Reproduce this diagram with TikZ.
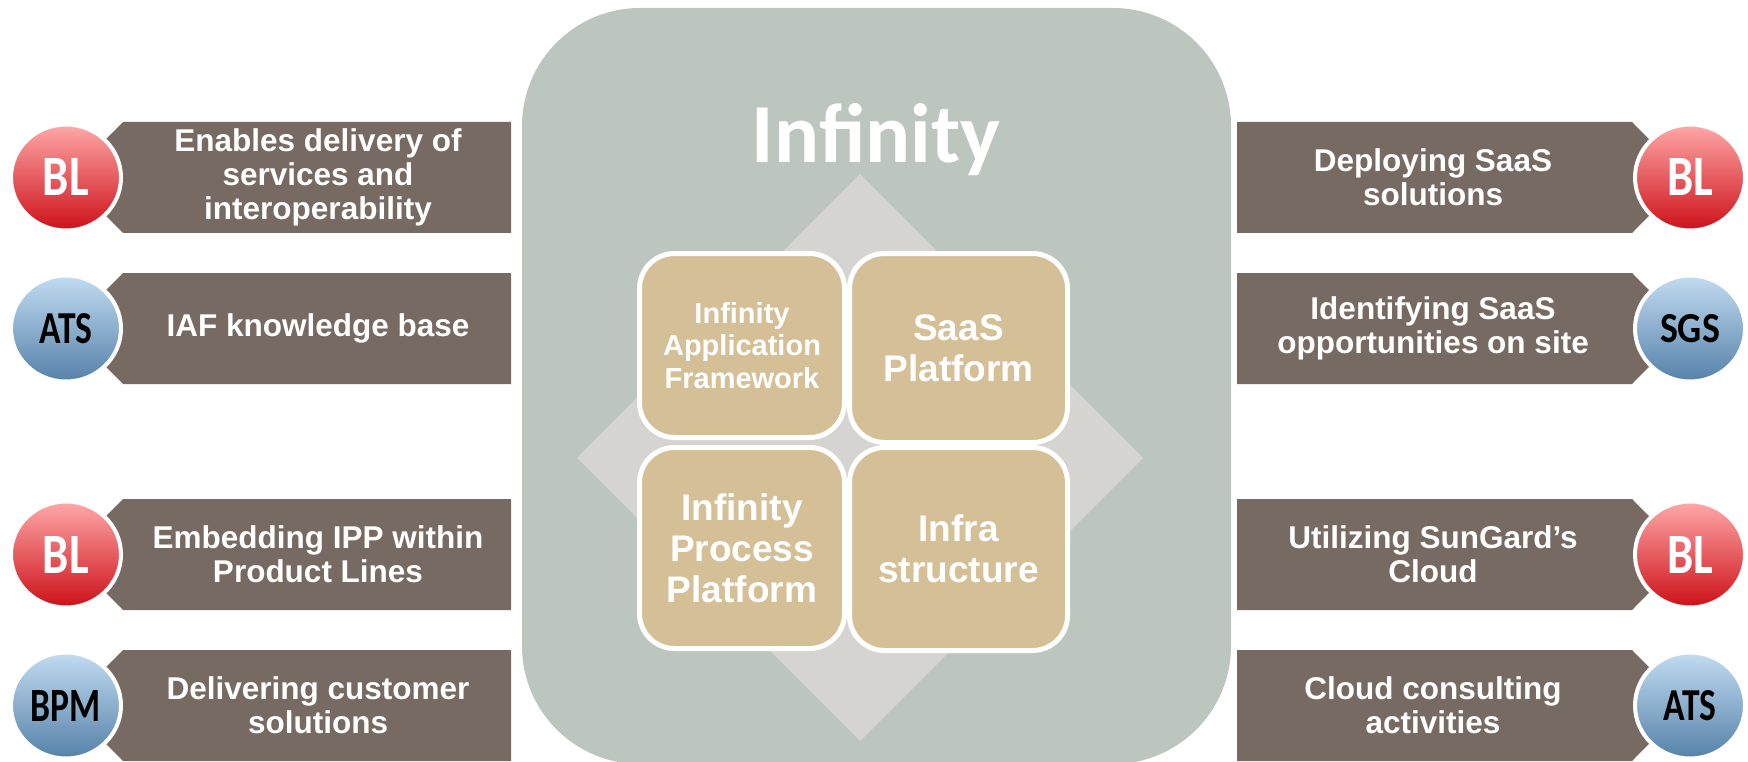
\documentclass[tikz,border=0pt]{standalone}
\usepackage{fontspec}
\usepackage{graphicx}
\setmainfont{Liberation Sans}
\newfontfamily\calib{Carlito}
\usetikzlibrary{shapes.geometric}
\definecolor{bigbg}{HTML}{BCC6BE}
\definecolor{diamc}{HTML}{D5D4D1}
\definecolor{boxc}{HTML}{D4BF96}
\definecolor{bannerc}{HTML}{776A62}
\definecolor{redtop}{HTML}{FFA8A8}
\definecolor{redbot}{HTML}{CC1018}
\definecolor{bluetop}{HTML}{C2DCF2}
\definecolor{bluebot}{HTML}{5581A8}
\tikzset{
  banner/.style={fill=bannerc},
  btext/.style={text=white, font=\bfseries\fontsize{31.5}{34}\selectfont, align=center, inner sep=0pt},
  qbox/.style={fill=boxc, draw=white, line width=5pt, rounded corners=35pt, inner sep=0pt, outer sep=0pt, text=white, align=center},
  smalltxt/.style={font=\bfseries\fontsize{29}{32.5}\selectfont},
  bigtxt/.style={font=\bfseries\fontsize{37}{41}\selectfont},
  badge/.style={ellipse, draw=white, line width=4pt, minimum width=110pt, minimum height=106pt, inner sep=0pt, shading=axis},
  redbadge/.style={badge, top color=redtop, bottom color=redbot},
  bluebadge/.style={badge, top color=bluetop, bottom color=bluebot},
  blab/.style={inner sep=0pt, font=\calib\bfseries}
}
\begin{document}
\begin{tikzpicture}[x=1pt, y=-1pt]
\useasboundingbox (0,0) rectangle (1748,762);
% big rounded panel
\fill[bigbg, rounded corners=118pt] (522,8) rectangle (1231,764);
% diamond
\fill[diamc] (860,174) -- (1143,458) -- (860,741) -- (577,458) -- cycle;
% title
\node[text=white, font=\calib\bfseries\fontsize{84}{90}\selectfont, anchor=base, inner sep=0pt] (title) at (876,163) {Infinity};
% quadrant boxes
\node[qbox, smalltxt, minimum width=205pt, minimum height=184pt] (iaf) at (742,345.5) {Infinity\\Application\\Framework};
\node[qbox, bigtxt, minimum width=218pt, minimum height=189pt] (saas) at (958.5,348) {SaaS\\Platform};
\node[qbox, bigtxt, minimum width=205pt, minimum height=201pt] (ipp) at (742,548) {Infinity\\Process\\Platform};
\node[qbox, bigtxt, minimum width=218pt, minimum height=203pt] (infra) at (958.5,549) {Infra\\structure};
% left banners
\fill[banner] (511,122) -- (123,122) -- (68,177.5) -- (123,233) -- (511,233) -- cycle;
\fill[banner] (511,273) -- (123,273) -- (68,328.5) -- (123,384) -- (511,384) -- cycle;
\fill[banner] (511,499) -- (123,499) -- (68,554.5) -- (123,610) -- (511,610) -- cycle;
\fill[banner] (511,650) -- (123,650) -- (68,705.5) -- (123,761) -- (511,761) -- cycle;
\node[btext] (l1) at (318,177.5) {Enables delivery of\\services and\\interoperability};
\node[btext] (l2) at (318,328.5) {IAF knowledge base};
\node[btext] (l3) at (318,554.5) {Embedding IPP within\\Product Lines};
\node[btext] (l4) at (318,705.5) {Delivering customer\\solutions};
% right banners
\fill[banner] (1237,122) -- (1632,122) -- (1687,177.5) -- (1632,233) -- (1237,233) -- cycle;
\fill[banner] (1237,273) -- (1632,273) -- (1687,328.5) -- (1632,384) -- (1237,384) -- cycle;
\fill[banner] (1237,499) -- (1632,499) -- (1687,554.5) -- (1632,610) -- (1237,610) -- cycle;
\fill[banner] (1237,650) -- (1632,650) -- (1687,705.5) -- (1632,761) -- (1237,761) -- cycle;
\node[btext] (r1) at (1433,177.5) {Deploying SaaS\\solutions};
\node[btext] (r2) at (1433,328.5) {Identifying SaaS\\opportunities on site};
\node[btext] (r3) at (1433,554.5) {Utilizing SunGard’s\\Cloud};
\node[btext] (r4) at (1433,705.5) {Cloud consulting\\activities};
% left badges
\node[redbadge] (cl1) at (66,177.5) {};
\node[bluebadge] (cl2) at (66,328.5) {};
\node[redbadge] (cl3) at (66,554.5) {};
\node[bluebadge] (cl4) at (66,705.5) {};
\node[blab, text=white] (bl1) at (cl1) {\resizebox{46pt}{37pt}{BL}};
\node[blab, text=black] (bl2) at (cl2) {\resizebox{53pt}{30pt}{ATS}};
\node[blab, text=white] (bl3) at (cl3) {\resizebox{46pt}{37pt}{BL}};
\node[blab, text=black] (bl4) at (cl4) {\resizebox{70pt}{31pt}{BPM}};
% right badges
\node[redbadge] (cr1) at (1690,177.5) {};
\node[bluebadge] (cr2) at (1690,328.5) {};
\node[redbadge] (cr3) at (1690,554.5) {};
\node[bluebadge] (cr4) at (1690,705.5) {};
\node[blab, text=white] (br1) at (cr1) {\resizebox{46pt}{37pt}{BL}};
\node[blab, text=black] (br2) at (cr2) {\resizebox{60pt}{28pt}{SGS}};
\node[blab, text=white] (br3) at (cr3) {\resizebox{46pt}{37pt}{BL}};
\node[blab, text=black] (br4) at (cr4) {\resizebox{53pt}{30pt}{ATS}};
\end{tikzpicture}
\end{document}
